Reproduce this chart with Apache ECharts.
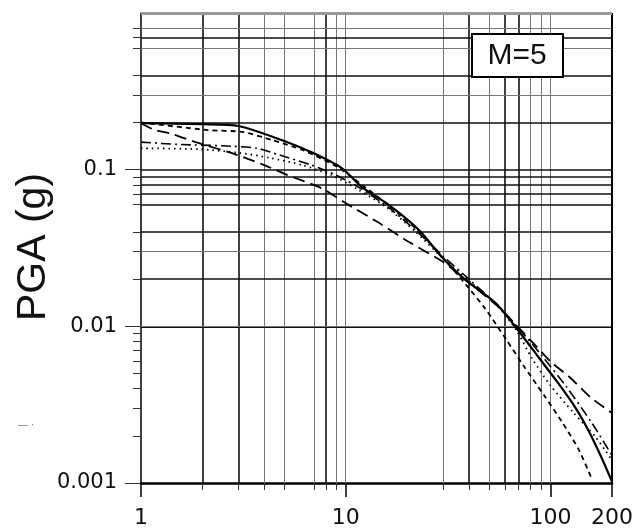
<!DOCTYPE html>
<html><head><meta charset="utf-8">
<script src="https://cdn.jsdelivr.net/npm/echarts@6/dist/echarts.min.js"></script>
<style>html,body{margin:0;padding:0;background:#fff}#c{width:637px;height:529px}</style>
</head><body><div id="c"></div>
<script>
// ---- tick labels / gridline values ----
const xTickLabels = [1, 10, 100, 200];
const yTickLabels = [0.001, 0.01, 0.1];
const xGridStrong = [2, 3, 8, 40, 60, 70];
const xGridLight = [4, 5, 7, 9, 10, 30, 50, 80, 90, 100];
const yGridStrong = [0.7, 0.4, 0.2, 0.1, 0.09, 0.08, 0.07, 0.06, 0.04, 0.02, 0.009, 0.008, 0.007, 0.005, 0.002];
const yGridLight = [0.8, 0.6, 0.3, 0.03, 0.01, 0.006, 0.004, 0.003];

// ---- curves (distance km, PGA g) ----
const solidDist = [1, 2, 3, 4.9, 6.9, 9.6, 12, 16.3, 22.8, 29.5, 38.6, 54, 67.6, 87.4, 109, 132, 153, 177, 200];
const solidPGA  = [0.198, 0.195, 0.19, 0.154, 0.128, 0.102, 0.0774, 0.0594, 0.0412, 0.0277, 0.0197, 0.0141, 0.0099, 0.00637, 0.00435, 0.00305, 0.00218, 0.00147, 0.00102];

const longDashDist = [1, 1.17, 1.38, 1.85, 2.96, 4.0, 5.19, 7.6, 9.8, 14.6, 20.4, 30, 40, 55, 70, 85, 101, 125, 158, 200];
const longDashPGA  = [0.198, 0.179, 0.171, 0.150, 0.124, 0.107, 0.0924, 0.0763, 0.0621, 0.0456, 0.0345, 0.0257, 0.019, 0.0135, 0.0098, 0.0075, 0.0059, 0.0047, 0.0035, 0.0028];

const dottedDist = [1, 1.94, 3.03, 4.24, 6.14, 8.5, 11.6, 16, 22, 30, 40, 55, 68, 81, 100, 130, 166, 185, 200];
const dottedPGA  = [0.137, 0.135, 0.128, 0.119, 0.107, 0.0924, 0.0741, 0.057, 0.040, 0.027, 0.0195, 0.0135, 0.0095, 0.0063, 0.0042, 0.0028, 0.00197, 0.00162, 0.0014];

const shortDashDist = [1, 2.12, 3.14, 4.4, 6.2, 9.1, 12, 16, 22, 30, 38.6, 48, 61, 74, 93.5, 114, 137, 160];
const shortDashPGA  = [0.2, 0.179, 0.174, 0.154, 0.133, 0.104, 0.08, 0.06, 0.042, 0.0272, 0.0185, 0.013, 0.0082, 0.0056, 0.0036, 0.00245, 0.00165, 0.00105];

const dashDotDist = [1, 1.5, 2.5, 3.7, 4.75, 6.8, 9, 12, 16, 22, 30, 40, 55, 70, 90, 120, 160, 200];
const dashDotPGA  = [0.15, 0.145, 0.142, 0.137, 0.124, 0.107, 0.092, 0.075, 0.058, 0.041, 0.028, 0.02, 0.0137, 0.0097, 0.0066, 0.0041, 0.0024, 0.0015];

const pairs = (xs, ys) => xs.map((x, i) => [x, ys[i]]);
const fmt = v => String(+(+v).toPrecision(3));

const strongV = {color: '#111', width: 1.6, type: 'solid'};
const lightV = {color: '#777', width: 1, type: 'solid'};
const gridMarks = []
  .concat(xGridStrong.map(v => ({xAxis: v, lineStyle: strongV})))
  .concat(xGridLight.map(v => ({xAxis: v, lineStyle: lightV})))
  .concat(yGridStrong.map(v => ({yAxis: v, lineStyle: strongV})))
  .concat(yGridLight.map(v => ({yAxis: v, lineStyle: lightV})))
  .concat([{xAxis: 200, lineStyle: {color: '#000', width: 2, type: 'solid'}},
           {yAxis: 1, lineStyle: {color: '#999', width: 3, type: 'solid'}}]);

const allXGrid = xGridStrong.concat(xGridLight);
const allYGrid = yGridStrong.concat(yGridLight);

const curve = (name, data, type, width) => ({
  name, type: 'line', data, xAxisIndex: 0, yAxisIndex: 0, smooth: 0.25,
  showSymbol: false, symbol: 'none', z: 5, silent: true,
  lineStyle: {color: '#000', width, type}
});

const chart = echarts.init(document.getElementById('c'), null, {renderer: 'canvas'});
chart.setOption({
  animation: false,
  backgroundColor: '#fff',
  grid: {left: 141, right: 25, top: 13, bottom: 46, containLabel: false},
  xAxis: [
    {type: 'log', logBase: 10, min: 1, max: 200, position: 'bottom',
     axisLine: {show: true, onZero: false, lineStyle: {color: '#000', width: 2.5}},
     axisTick: {show: true, customValues: xTickLabels, length: 14, lineStyle: {color: '#000', width: 1.5}},
     axisLabel: {show: true, customValues: xTickLabels, formatter: fmt, margin: 24,
                 fontFamily: 'DejaVu Sans', fontSize: 22, color: '#111'},
     splitLine: {show: false}, minorTick: {show: false}},
    {type: 'log', logBase: 10, min: 1, max: 200, position: 'bottom',
     axisLine: {show: false, onZero: false},
     axisTick: {show: true, customValues: allXGrid, length: 7, lineStyle: {color: '#333', width: 1}},
     axisLabel: {show: false}, splitLine: {show: false}}
  ],
  yAxis: [
    {type: 'log', logBase: 10, min: 0.001, max: 1, position: 'left',
     axisLine: {show: true, onZero: false, lineStyle: {color: '#000', width: 1.5}},
     axisTick: {show: true, customValues: yTickLabels, length: 16, lineStyle: {color: '#333', width: 1}},
     axisLabel: {show: true, customValues: yTickLabels, formatter: fmt, margin: 24,
                 fontFamily: 'DejaVu Sans', fontSize: 21, color: '#111'},
     splitLine: {show: false}},
    {type: 'log', logBase: 10, min: 0.001, max: 1, position: 'left',
     axisLine: {show: false, onZero: false},
     axisTick: {show: true, customValues: allYGrid, length: 8, lineStyle: {color: '#333', width: 1}},
     axisLabel: {show: false}, splitLine: {show: false}}
  ],
  series: [
    {name: 'grid', type: 'line', data: [], xAxisIndex: 0, yAxisIndex: 0, z: 1, silent: true,
     markLine: {silent: true, symbol: ['none', 'none'], label: {show: false}, animation: false, data: gridMarks}},
    curve('Solid', pairs(solidDist, solidPGA), 'solid', 2.2),
    curve('Long dash', pairs(longDashDist, longDashPGA), [12, 6], 1.8),
    curve('Dotted', pairs(dottedDist, dottedPGA), [1.5, 4], 1.8),
    curve('Short dash', pairs(shortDashDist, shortDashPGA), [5, 4], 1.8),
    curve('Dash dot', pairs(dashDotDist, dashDotPGA), [10, 4, 2, 4], 1.6)
  ],
  graphic: [
    {type: 'text', x: 34, y: 247, rotation: Math.PI / 2, z: 10,
     style: {text: 'PGA (g)', align: 'center', verticalAlign: 'middle',
             font: '41px "Liberation Sans", Arial, sans-serif', fill: '#111'}},
    {type: 'rect', shape: {x: 472, y: 34, width: 91, height: 43}, z: 10,
     style: {fill: '#fff', stroke: '#000', lineWidth: 2}},
    {type: 'text', x: 517, y: 56, z: 11,
     style: {text: 'M=5', align: 'center', verticalAlign: 'middle',
             font: '30px "Liberation Sans", Arial, sans-serif', fill: '#111'}},
    {type: 'text', x: 18, y: 425, z: 10,
     style: {text: '— ·', align: 'left', verticalAlign: 'middle',
             font: '10px "Liberation Sans", Arial, sans-serif', fill: '#777'}}
  ]
});
</script>
</body></html>
